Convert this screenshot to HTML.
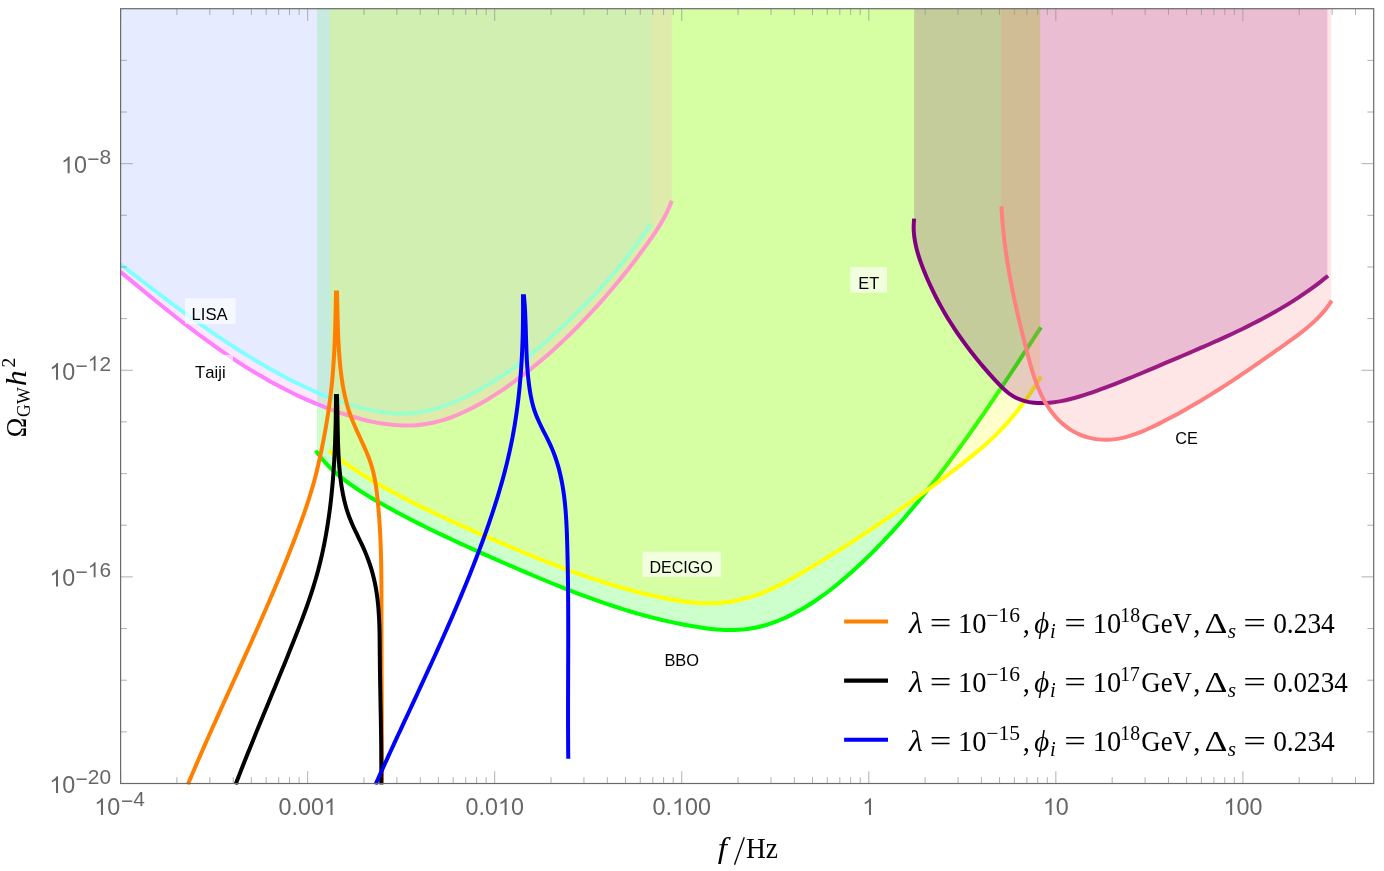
<!DOCTYPE html>
<html><head><meta charset="utf-8"><title>GW spectrum</title>
<style>html,body{margin:0;padding:0;background:#fff;}body{width:1384px;height:871px;position:relative;overflow:hidden;font-family:"Liberation Sans",sans-serif;}</style>
</head><body>
<svg width="1384" height="871" viewBox="0 0 1384 871" style="position:absolute;left:0;top:0;will-change:transform">
<defs><clipPath id="cp"><rect x="120.60" y="8.70" width="1253.10" height="776.00"/></clipPath></defs>
<rect x="0" y="0" width="1384" height="871" fill="#fff"/>
<g clip-path="url(#cp)" fill="none" stroke-linejoin="round">
<path d="M317.00,8.7 L317.00,450.60 L315.60,450.60 C316.54,451.83 319.29,455.60 321.26,457.97 C323.22,460.33 325.27,462.60 327.38,464.80 C329.49,467.00 331.68,469.12 333.92,471.17 C336.16,473.22 338.46,475.19 340.82,477.11 C343.17,479.02 345.58,480.87 348.02,482.67 C350.47,484.48 352.97,486.22 355.49,487.93 C358.02,489.63 360.58,491.28 363.17,492.91 C365.75,494.54 368.37,496.12 371.00,497.68 C373.63,499.24 376.28,500.77 378.94,502.29 C381.59,503.81 384.26,505.30 386.93,506.79 C389.60,508.27 392.28,509.74 394.97,511.19 C397.66,512.64 400.35,514.07 403.05,515.50 C405.75,516.92 408.46,518.33 411.17,519.72 C413.88,521.12 416.60,522.50 419.33,523.87 C422.05,525.24 424.78,526.59 427.52,527.94 C430.25,529.29 432.99,530.62 435.74,531.94 C438.49,533.27 441.24,534.58 443.99,535.89 C446.75,537.19 449.51,538.49 452.27,539.78 C455.04,541.06 457.81,542.34 460.58,543.61 C463.35,544.89 466.13,546.15 468.91,547.41 C471.69,548.67 474.47,549.92 477.26,551.17 C480.04,552.41 482.83,553.65 485.62,554.89 C488.41,556.13 491.21,557.36 494.00,558.59 C496.80,559.82 499.60,561.04 502.40,562.26 C505.20,563.49 508.00,564.71 510.80,565.92 C513.60,567.14 516.41,568.35 519.22,569.56 C522.03,570.77 524.84,571.97 527.65,573.17 C530.46,574.37 533.28,575.56 536.10,576.74 C538.92,577.93 541.74,579.10 544.56,580.27 C547.39,581.44 550.22,582.60 553.05,583.75 C555.88,584.89 558.72,586.03 561.56,587.16 C564.40,588.29 567.24,589.41 570.09,590.51 C572.94,591.62 575.79,592.71 578.65,593.79 C581.50,594.87 584.37,595.94 587.23,596.99 C590.10,598.04 592.97,599.07 595.85,600.09 C598.72,601.11 601.60,602.12 604.49,603.11 C607.38,604.09 610.27,605.06 613.17,606.01 C616.07,606.96 618.97,607.90 621.88,608.81 C624.80,609.72 627.71,610.62 630.64,611.49 C633.56,612.36 636.49,613.22 639.43,614.05 C642.36,614.88 645.30,615.68 648.26,616.47 C651.21,617.25 654.16,618.01 657.13,618.75 C660.09,619.48 663.07,620.20 666.05,620.88 C669.03,621.57 672.01,622.23 675.01,622.86 C678.01,623.49 681.01,624.10 684.02,624.68 C687.04,625.26 690.06,625.81 693.09,626.33 C696.11,626.84 699.15,627.33 702.19,627.77 C705.23,628.20 708.28,628.60 711.32,628.92 C714.36,629.24 717.41,629.52 720.45,629.70 C723.49,629.89 726.53,630.01 729.56,630.04 C732.58,630.06 735.61,630.00 738.62,629.83 C741.63,629.66 744.64,629.40 747.62,629.01 C750.61,628.62 753.58,628.12 756.54,627.49 C759.49,626.87 762.43,626.11 765.34,625.26 C768.25,624.42 771.14,623.45 774.01,622.40 C776.87,621.36 779.71,620.21 782.51,618.99 C785.32,617.78 788.09,616.48 790.83,615.12 C793.57,613.76 796.27,612.33 798.95,610.84 C801.62,609.36 804.26,607.81 806.87,606.21 C809.48,604.61 812.06,602.94 814.61,601.24 C817.16,599.54 819.68,597.78 822.18,595.98 C824.67,594.19 827.13,592.34 829.57,590.47 C832.01,588.59 834.42,586.68 836.81,584.73 C839.20,582.79 841.56,580.81 843.90,578.81 C846.24,576.81 848.55,574.78 850.85,572.74 C853.14,570.69 855.41,568.62 857.66,566.54 C859.91,564.46 862.14,562.36 864.35,560.24 C866.55,558.13 868.74,555.99 870.91,553.84 C873.08,551.69 875.23,549.53 877.36,547.34 C879.49,545.16 881.60,542.97 883.70,540.75 C885.79,538.54 887.87,536.32 889.93,534.08 C892.00,531.84 894.04,529.58 896.07,527.31 C898.11,525.05 900.12,522.77 902.12,520.48 C904.12,518.18 906.11,515.88 908.09,513.56 C910.06,511.25 912.02,508.92 913.97,506.58 C915.92,504.24 917.86,501.90 919.78,499.54 C921.71,497.18 923.62,494.81 925.53,492.43 C927.44,490.06 929.33,487.67 931.21,485.27 C933.10,482.88 934.98,480.47 936.84,478.06 C938.71,475.65 940.56,473.23 942.41,470.80 C944.26,468.38 946.10,465.94 947.93,463.50 C949.76,461.06 951.58,458.61 953.40,456.15 C955.21,453.69 957.02,451.23 958.82,448.76 C960.62,446.29 962.41,443.81 964.19,441.33 C965.97,438.85 967.75,436.36 969.52,433.87 C971.29,431.38 973.05,428.88 974.81,426.38 C976.56,423.87 978.31,421.37 980.06,418.85 C981.80,416.34 983.54,413.83 985.27,411.30 C987.00,408.78 988.73,406.26 990.45,403.73 C992.17,401.20 993.88,398.67 995.60,396.14 C997.31,393.60 999.01,391.06 1000.71,388.52 C1002.42,385.98 1004.11,383.44 1005.81,380.90 C1007.50,378.35 1009.19,375.80 1010.87,373.25 C1012.56,370.71 1014.24,368.16 1015.92,365.60 C1017.60,363.05 1019.27,360.50 1020.94,357.95 C1022.62,355.39 1024.29,352.84 1025.95,350.28 C1027.62,347.73 1029.28,345.17 1030.95,342.62 C1032.61,340.07 1034.27,337.51 1035.93,334.96 C1037.59,332.40 1040.07,328.58 1040.90,327.30 L1040.20,327.30 L1040.20,8.7 Z" fill="rgb(0,255,0)" fill-opacity="0.2" stroke="none"/>
<path d="M315.60,450.60 C316.54,451.83 319.29,455.60 321.26,457.97 C323.22,460.33 325.27,462.60 327.38,464.80 C329.49,467.00 331.68,469.12 333.92,471.17 C336.16,473.22 338.46,475.19 340.82,477.11 C343.17,479.02 345.58,480.87 348.02,482.67 C350.47,484.48 352.97,486.22 355.49,487.93 C358.02,489.63 360.58,491.28 363.17,492.91 C365.75,494.54 368.37,496.12 371.00,497.68 C373.63,499.24 376.28,500.77 378.94,502.29 C381.59,503.81 384.26,505.30 386.93,506.79 C389.60,508.27 392.28,509.74 394.97,511.19 C397.66,512.64 400.35,514.07 403.05,515.50 C405.75,516.92 408.46,518.33 411.17,519.72 C413.88,521.12 416.60,522.50 419.33,523.87 C422.05,525.24 424.78,526.59 427.52,527.94 C430.25,529.29 432.99,530.62 435.74,531.94 C438.49,533.27 441.24,534.58 443.99,535.89 C446.75,537.19 449.51,538.49 452.27,539.78 C455.04,541.06 457.81,542.34 460.58,543.61 C463.35,544.89 466.13,546.15 468.91,547.41 C471.69,548.67 474.47,549.92 477.26,551.17 C480.04,552.41 482.83,553.65 485.62,554.89 C488.41,556.13 491.21,557.36 494.00,558.59 C496.80,559.82 499.60,561.04 502.40,562.26 C505.20,563.49 508.00,564.71 510.80,565.92 C513.60,567.14 516.41,568.35 519.22,569.56 C522.03,570.77 524.84,571.97 527.65,573.17 C530.46,574.37 533.28,575.56 536.10,576.74 C538.92,577.93 541.74,579.10 544.56,580.27 C547.39,581.44 550.22,582.60 553.05,583.75 C555.88,584.89 558.72,586.03 561.56,587.16 C564.40,588.29 567.24,589.41 570.09,590.51 C572.94,591.62 575.79,592.71 578.65,593.79 C581.50,594.87 584.37,595.94 587.23,596.99 C590.10,598.04 592.97,599.07 595.85,600.09 C598.72,601.11 601.60,602.12 604.49,603.11 C607.38,604.09 610.27,605.06 613.17,606.01 C616.07,606.96 618.97,607.90 621.88,608.81 C624.80,609.72 627.71,610.62 630.64,611.49 C633.56,612.36 636.49,613.22 639.43,614.05 C642.36,614.88 645.30,615.68 648.26,616.47 C651.21,617.25 654.16,618.01 657.13,618.75 C660.09,619.48 663.07,620.20 666.05,620.88 C669.03,621.57 672.01,622.23 675.01,622.86 C678.01,623.49 681.01,624.10 684.02,624.68 C687.04,625.26 690.06,625.81 693.09,626.33 C696.11,626.84 699.15,627.33 702.19,627.77 C705.23,628.20 708.28,628.60 711.32,628.92 C714.36,629.24 717.41,629.52 720.45,629.70 C723.49,629.89 726.53,630.01 729.56,630.04 C732.58,630.06 735.61,630.00 738.62,629.83 C741.63,629.66 744.64,629.40 747.62,629.01 C750.61,628.62 753.58,628.12 756.54,627.49 C759.49,626.87 762.43,626.11 765.34,625.26 C768.25,624.42 771.14,623.45 774.01,622.40 C776.87,621.36 779.71,620.21 782.51,618.99 C785.32,617.78 788.09,616.48 790.83,615.12 C793.57,613.76 796.27,612.33 798.95,610.84 C801.62,609.36 804.26,607.81 806.87,606.21 C809.48,604.61 812.06,602.94 814.61,601.24 C817.16,599.54 819.68,597.78 822.18,595.98 C824.67,594.19 827.13,592.34 829.57,590.47 C832.01,588.59 834.42,586.68 836.81,584.73 C839.20,582.79 841.56,580.81 843.90,578.81 C846.24,576.81 848.55,574.78 850.85,572.74 C853.14,570.69 855.41,568.62 857.66,566.54 C859.91,564.46 862.14,562.36 864.35,560.24 C866.55,558.13 868.74,555.99 870.91,553.84 C873.08,551.69 875.23,549.53 877.36,547.34 C879.49,545.16 881.60,542.97 883.70,540.75 C885.79,538.54 887.87,536.32 889.93,534.08 C892.00,531.84 894.04,529.58 896.07,527.31 C898.11,525.05 900.12,522.77 902.12,520.48 C904.12,518.18 906.11,515.88 908.09,513.56 C910.06,511.25 912.02,508.92 913.97,506.58 C915.92,504.24 917.86,501.90 919.78,499.54 C921.71,497.18 923.62,494.81 925.53,492.43 C927.44,490.06 929.33,487.67 931.21,485.27 C933.10,482.88 934.98,480.47 936.84,478.06 C938.71,475.65 940.56,473.23 942.41,470.80 C944.26,468.38 946.10,465.94 947.93,463.50 C949.76,461.06 951.58,458.61 953.40,456.15 C955.21,453.69 957.02,451.23 958.82,448.76 C960.62,446.29 962.41,443.81 964.19,441.33 C965.97,438.85 967.75,436.36 969.52,433.87 C971.29,431.38 973.05,428.88 974.81,426.38 C976.56,423.87 978.31,421.37 980.06,418.85 C981.80,416.34 983.54,413.83 985.27,411.30 C987.00,408.78 988.73,406.26 990.45,403.73 C992.17,401.20 993.88,398.67 995.60,396.14 C997.31,393.60 999.01,391.06 1000.71,388.52 C1002.42,385.98 1004.11,383.44 1005.81,380.90 C1007.50,378.35 1009.19,375.80 1010.87,373.25 C1012.56,370.71 1014.24,368.16 1015.92,365.60 C1017.60,363.05 1019.27,360.50 1020.94,357.95 C1022.62,355.39 1024.29,352.84 1025.95,350.28 C1027.62,347.73 1029.28,345.17 1030.95,342.62 C1032.61,340.07 1034.27,337.51 1035.93,334.96 C1037.59,332.40 1040.07,328.58 1040.90,327.30" stroke="rgb(0,255,0)" stroke-width="4.0"/>
<path d="M120.50,8.7 L120.50,271.90 L120.60,271.90 C121.78,272.88 125.30,275.81 127.66,277.77 C130.01,279.72 132.37,281.68 134.73,283.64 C137.09,285.59 139.45,287.55 141.82,289.50 C144.19,291.45 146.56,293.40 148.94,295.35 C151.32,297.29 153.70,299.24 156.08,301.18 C158.47,303.11 160.86,305.05 163.26,306.97 C165.66,308.90 168.06,310.82 170.47,312.73 C172.88,314.65 175.29,316.55 177.72,318.45 C180.14,320.35 182.57,322.23 185.01,324.11 C187.44,325.99 189.89,327.86 192.34,329.71 C194.79,331.57 197.25,333.41 199.72,335.25 C202.19,337.08 204.67,338.90 207.16,340.70 C209.65,342.51 212.14,344.30 214.65,346.07 C217.15,347.85 219.67,349.61 222.20,351.35 C224.72,353.10 227.26,354.83 229.81,356.54 C232.36,358.24 234.92,359.94 237.49,361.61 C240.06,363.28 242.64,364.93 245.23,366.56 C247.83,368.20 250.43,369.81 253.05,371.40 C255.67,372.99 258.30,374.56 260.95,376.10 C263.60,377.64 266.25,379.17 268.93,380.66 C271.60,382.16 274.29,383.63 276.99,385.08 C279.69,386.53 282.40,387.95 285.13,389.34 C287.86,390.74 290.61,392.10 293.37,393.44 C296.12,394.78 298.90,396.09 301.69,397.38 C304.48,398.66 307.28,399.91 310.10,401.13 C312.92,402.36 315.76,403.55 318.61,404.71 C321.46,405.87 324.33,407.00 327.22,408.10 C330.10,409.19 333.00,410.26 335.92,411.28 C338.83,412.31 341.77,413.31 344.72,414.27 C347.66,415.22 350.63,416.15 353.61,417.02 C356.58,417.88 359.57,418.71 362.57,419.48 C365.57,420.24 368.58,420.95 371.59,421.59 C374.61,422.23 377.63,422.81 380.66,423.31 C383.68,423.81 386.71,424.24 389.74,424.58 C392.78,424.92 395.81,425.18 398.84,425.34 C401.87,425.50 404.90,425.58 407.93,425.55 C410.95,425.51 413.97,425.39 416.99,425.14 C420.00,424.90 423.01,424.55 426.01,424.07 C429.00,423.60 431.99,423.00 434.96,422.29 C437.94,421.58 440.90,420.75 443.84,419.83 C446.77,418.92 449.70,417.89 452.59,416.79 C455.48,415.70 458.35,414.50 461.19,413.26 C464.02,412.02 466.83,410.70 469.60,409.33 C472.38,407.97 475.11,406.54 477.83,405.07 C480.54,403.60 483.22,402.07 485.87,400.51 C488.52,398.94 491.15,397.33 493.75,395.68 C496.35,394.03 498.92,392.34 501.47,390.63 C504.03,388.91 506.56,387.15 509.06,385.38 C511.57,383.60 514.06,381.80 516.53,379.97 C519.00,378.14 521.45,376.29 523.88,374.42 C526.31,372.55 528.72,370.65 531.11,368.73 C533.51,366.82 535.88,364.87 538.24,362.91 C540.59,360.95 542.93,358.97 545.25,356.97 C547.57,354.96 549.87,352.94 552.15,350.90 C554.44,348.85 556.70,346.79 558.95,344.71 C561.20,342.63 563.44,340.53 565.65,338.41 C567.87,336.29 570.07,334.15 572.25,332.00 C574.43,329.85 576.60,327.68 578.75,325.49 C580.90,323.30 583.04,321.10 585.16,318.88 C587.28,316.66 589.38,314.43 591.47,312.18 C593.56,309.93 595.64,307.67 597.70,305.39 C599.76,303.11 601.80,300.82 603.83,298.52 C605.86,296.21 607.87,293.89 609.87,291.55 C611.87,289.22 613.85,286.87 615.81,284.51 C617.78,282.15 619.73,279.78 621.67,277.39 C623.60,275.00 625.52,272.60 627.43,270.19 C629.33,267.78 631.22,265.36 633.09,262.92 C634.96,260.49 636.82,258.04 638.66,255.58 C640.50,253.12 642.33,250.65 644.14,248.17 C645.95,245.69 647.75,243.20 649.51,240.69 C651.28,238.18 653.03,235.66 654.72,233.11 C656.42,230.56 658.08,227.99 659.67,225.37 C661.26,222.76 662.80,220.12 664.25,217.43 C665.70,214.74 667.08,212.01 668.36,209.22 C669.63,206.43 671.31,202.12 671.90,200.70 L671.70,200.70 L671.70,8.7 Z" fill="rgb(255,128,255)" fill-opacity="0.2" stroke="none"/>
<path d="M120.60,271.90 C121.78,272.88 125.30,275.81 127.66,277.77 C130.01,279.72 132.37,281.68 134.73,283.64 C137.09,285.59 139.45,287.55 141.82,289.50 C144.19,291.45 146.56,293.40 148.94,295.35 C151.32,297.29 153.70,299.24 156.08,301.18 C158.47,303.11 160.86,305.05 163.26,306.97 C165.66,308.90 168.06,310.82 170.47,312.73 C172.88,314.65 175.29,316.55 177.72,318.45 C180.14,320.35 182.57,322.23 185.01,324.11 C187.44,325.99 189.89,327.86 192.34,329.71 C194.79,331.57 197.25,333.41 199.72,335.25 C202.19,337.08 204.67,338.90 207.16,340.70 C209.65,342.51 212.14,344.30 214.65,346.07 C217.15,347.85 219.67,349.61 222.20,351.35 C224.72,353.10 227.26,354.83 229.81,356.54 C232.36,358.24 234.92,359.94 237.49,361.61 C240.06,363.28 242.64,364.93 245.23,366.56 C247.83,368.20 250.43,369.81 253.05,371.40 C255.67,372.99 258.30,374.56 260.95,376.10 C263.60,377.64 266.25,379.17 268.93,380.66 C271.60,382.16 274.29,383.63 276.99,385.08 C279.69,386.53 282.40,387.95 285.13,389.34 C287.86,390.74 290.61,392.10 293.37,393.44 C296.12,394.78 298.90,396.09 301.69,397.38 C304.48,398.66 307.28,399.91 310.10,401.13 C312.92,402.36 315.76,403.55 318.61,404.71 C321.46,405.87 324.33,407.00 327.22,408.10 C330.10,409.19 333.00,410.26 335.92,411.28 C338.83,412.31 341.77,413.31 344.72,414.27 C347.66,415.22 350.63,416.15 353.61,417.02 C356.58,417.88 359.57,418.71 362.57,419.48 C365.57,420.24 368.58,420.95 371.59,421.59 C374.61,422.23 377.63,422.81 380.66,423.31 C383.68,423.81 386.71,424.24 389.74,424.58 C392.78,424.92 395.81,425.18 398.84,425.34 C401.87,425.50 404.90,425.58 407.93,425.55 C410.95,425.51 413.97,425.39 416.99,425.14 C420.00,424.90 423.01,424.55 426.01,424.07 C429.00,423.60 431.99,423.00 434.96,422.29 C437.94,421.58 440.90,420.75 443.84,419.83 C446.77,418.92 449.70,417.89 452.59,416.79 C455.48,415.70 458.35,414.50 461.19,413.26 C464.02,412.02 466.83,410.70 469.60,409.33 C472.38,407.97 475.11,406.54 477.83,405.07 C480.54,403.60 483.22,402.07 485.87,400.51 C488.52,398.94 491.15,397.33 493.75,395.68 C496.35,394.03 498.92,392.34 501.47,390.63 C504.03,388.91 506.56,387.15 509.06,385.38 C511.57,383.60 514.06,381.80 516.53,379.97 C519.00,378.14 521.45,376.29 523.88,374.42 C526.31,372.55 528.72,370.65 531.11,368.73 C533.51,366.82 535.88,364.87 538.24,362.91 C540.59,360.95 542.93,358.97 545.25,356.97 C547.57,354.96 549.87,352.94 552.15,350.90 C554.44,348.85 556.70,346.79 558.95,344.71 C561.20,342.63 563.44,340.53 565.65,338.41 C567.87,336.29 570.07,334.15 572.25,332.00 C574.43,329.85 576.60,327.68 578.75,325.49 C580.90,323.30 583.04,321.10 585.16,318.88 C587.28,316.66 589.38,314.43 591.47,312.18 C593.56,309.93 595.64,307.67 597.70,305.39 C599.76,303.11 601.80,300.82 603.83,298.52 C605.86,296.21 607.87,293.89 609.87,291.55 C611.87,289.22 613.85,286.87 615.81,284.51 C617.78,282.15 619.73,279.78 621.67,277.39 C623.60,275.00 625.52,272.60 627.43,270.19 C629.33,267.78 631.22,265.36 633.09,262.92 C634.96,260.49 636.82,258.04 638.66,255.58 C640.50,253.12 642.33,250.65 644.14,248.17 C645.95,245.69 647.75,243.20 649.51,240.69 C651.28,238.18 653.03,235.66 654.72,233.11 C656.42,230.56 658.08,227.99 659.67,225.37 C661.26,222.76 662.80,220.12 664.25,217.43 C665.70,214.74 667.08,212.01 668.36,209.22 C669.63,206.43 671.31,202.12 671.90,200.70" stroke="rgb(255,128,255)" stroke-width="4.0"/>
<path d="M121.30,8.7 L121.30,264.40 L120.60,264.40 C121.81,265.34 125.45,268.15 127.88,270.03 C130.31,271.90 132.74,273.78 135.17,275.65 C137.60,277.53 140.04,279.40 142.48,281.27 C144.92,283.15 147.36,285.02 149.80,286.88 C152.25,288.75 154.70,290.62 157.15,292.48 C159.60,294.34 162.06,296.19 164.52,298.04 C166.98,299.90 169.45,301.74 171.92,303.58 C174.39,305.42 176.86,307.26 179.35,309.08 C181.83,310.91 184.31,312.73 186.80,314.54 C189.30,316.35 191.79,318.16 194.30,319.95 C196.80,321.74 199.31,323.53 201.83,325.30 C204.35,327.08 206.87,328.84 209.40,330.59 C211.93,332.34 214.47,334.08 217.02,335.81 C219.56,337.54 222.11,339.26 224.68,340.96 C227.24,342.66 229.81,344.35 232.39,346.02 C234.97,347.70 237.55,349.36 240.15,351.00 C242.75,352.64 245.35,354.27 247.97,355.88 C250.58,357.49 253.20,359.09 255.84,360.66 C258.47,362.24 261.12,363.80 263.77,365.34 C266.43,366.88 269.09,368.40 271.77,369.90 C274.45,371.40 277.13,372.88 279.83,374.34 C282.53,375.80 285.25,377.23 287.97,378.65 C290.70,380.06 293.43,381.45 296.19,382.81 C298.94,384.17 301.71,385.51 304.49,386.81 C307.28,388.12 310.07,389.40 312.89,390.65 C315.71,391.89 318.54,393.11 321.39,394.29 C324.24,395.48 327.11,396.63 330.00,397.75 C332.89,398.86 335.80,399.95 338.72,400.99 C341.65,402.03 344.60,403.05 347.57,404.01 C350.53,404.97 353.52,405.89 356.52,406.74 C359.51,407.59 362.52,408.40 365.54,409.12 C368.56,409.84 371.59,410.51 374.63,411.08 C377.66,411.65 380.70,412.15 383.74,412.55 C386.78,412.95 389.83,413.26 392.87,413.46 C395.91,413.66 398.95,413.77 401.98,413.75 C405.01,413.73 408.03,413.59 411.05,413.34 C414.06,413.08 417.07,412.70 420.06,412.22 C423.05,411.73 426.04,411.13 429.00,410.44 C431.97,409.74 434.92,408.94 437.85,408.06 C440.78,407.18 443.70,406.19 446.60,405.14 C449.49,404.09 452.37,402.95 455.22,401.75 C458.08,400.56 460.91,399.28 463.72,397.95 C466.52,396.63 469.31,395.23 472.06,393.80 C474.81,392.36 477.54,390.87 480.24,389.35 C482.94,387.83 485.60,386.26 488.25,384.66 C490.89,383.06 493.50,381.42 496.09,379.74 C498.68,378.07 501.24,376.36 503.78,374.62 C506.32,372.88 508.83,371.10 511.33,369.30 C513.82,367.50 516.29,365.67 518.74,363.81 C521.19,361.95 523.62,360.06 526.03,358.16 C528.44,356.25 530.83,354.31 533.20,352.36 C535.58,350.40 537.93,348.43 540.28,346.43 C542.62,344.44 544.94,342.42 547.26,340.39 C549.57,338.36 551.87,336.32 554.16,334.26 C556.44,332.20 558.72,330.12 560.98,328.03 C563.23,325.95 565.48,323.84 567.71,321.72 C569.94,319.61 572.16,317.47 574.37,315.32 C576.57,313.18 578.76,311.01 580.93,308.83 C583.10,306.66 585.26,304.46 587.40,302.25 C589.54,300.04 591.66,297.82 593.77,295.58 C595.87,293.34 597.96,291.08 600.04,288.81 C602.11,286.54 604.16,284.25 606.20,281.95 C608.24,279.64 610.25,277.33 612.25,274.99 C614.25,272.65 616.23,270.30 618.19,267.93 C620.15,265.57 622.09,263.18 624.01,260.78 C625.93,258.38 627.83,255.96 629.71,253.53 C631.59,251.09 633.45,248.64 635.28,246.17 C637.12,243.71 638.93,241.22 640.72,238.72 C642.52,236.22 644.29,233.70 646.03,231.16 C647.78,228.63 650.34,224.78 651.20,223.50 L650.60,223.50 L650.60,8.7 Z" fill="rgb(128,255,255)" fill-opacity="0.2" stroke="none"/>
<path d="M120.60,264.40 C121.81,265.34 125.45,268.15 127.88,270.03 C130.31,271.90 132.74,273.78 135.17,275.65 C137.60,277.53 140.04,279.40 142.48,281.27 C144.92,283.15 147.36,285.02 149.80,286.88 C152.25,288.75 154.70,290.62 157.15,292.48 C159.60,294.34 162.06,296.19 164.52,298.04 C166.98,299.90 169.45,301.74 171.92,303.58 C174.39,305.42 176.86,307.26 179.35,309.08 C181.83,310.91 184.31,312.73 186.80,314.54 C189.30,316.35 191.79,318.16 194.30,319.95 C196.80,321.74 199.31,323.53 201.83,325.30 C204.35,327.08 206.87,328.84 209.40,330.59 C211.93,332.34 214.47,334.08 217.02,335.81 C219.56,337.54 222.11,339.26 224.68,340.96 C227.24,342.66 229.81,344.35 232.39,346.02 C234.97,347.70 237.55,349.36 240.15,351.00 C242.75,352.64 245.35,354.27 247.97,355.88 C250.58,357.49 253.20,359.09 255.84,360.66 C258.47,362.24 261.12,363.80 263.77,365.34 C266.43,366.88 269.09,368.40 271.77,369.90 C274.45,371.40 277.13,372.88 279.83,374.34 C282.53,375.80 285.25,377.23 287.97,378.65 C290.70,380.06 293.43,381.45 296.19,382.81 C298.94,384.17 301.71,385.51 304.49,386.81 C307.28,388.12 310.07,389.40 312.89,390.65 C315.71,391.89 318.54,393.11 321.39,394.29 C324.24,395.48 327.11,396.63 330.00,397.75 C332.89,398.86 335.80,399.95 338.72,400.99 C341.65,402.03 344.60,403.05 347.57,404.01 C350.53,404.97 353.52,405.89 356.52,406.74 C359.51,407.59 362.52,408.40 365.54,409.12 C368.56,409.84 371.59,410.51 374.63,411.08 C377.66,411.65 380.70,412.15 383.74,412.55 C386.78,412.95 389.83,413.26 392.87,413.46 C395.91,413.66 398.95,413.77 401.98,413.75 C405.01,413.73 408.03,413.59 411.05,413.34 C414.06,413.08 417.07,412.70 420.06,412.22 C423.05,411.73 426.04,411.13 429.00,410.44 C431.97,409.74 434.92,408.94 437.85,408.06 C440.78,407.18 443.70,406.19 446.60,405.14 C449.49,404.09 452.37,402.95 455.22,401.75 C458.08,400.56 460.91,399.28 463.72,397.95 C466.52,396.63 469.31,395.23 472.06,393.80 C474.81,392.36 477.54,390.87 480.24,389.35 C482.94,387.83 485.60,386.26 488.25,384.66 C490.89,383.06 493.50,381.42 496.09,379.74 C498.68,378.07 501.24,376.36 503.78,374.62 C506.32,372.88 508.83,371.10 511.33,369.30 C513.82,367.50 516.29,365.67 518.74,363.81 C521.19,361.95 523.62,360.06 526.03,358.16 C528.44,356.25 530.83,354.31 533.20,352.36 C535.58,350.40 537.93,348.43 540.28,346.43 C542.62,344.44 544.94,342.42 547.26,340.39 C549.57,338.36 551.87,336.32 554.16,334.26 C556.44,332.20 558.72,330.12 560.98,328.03 C563.23,325.95 565.48,323.84 567.71,321.72 C569.94,319.61 572.16,317.47 574.37,315.32 C576.57,313.18 578.76,311.01 580.93,308.83 C583.10,306.66 585.26,304.46 587.40,302.25 C589.54,300.04 591.66,297.82 593.77,295.58 C595.87,293.34 597.96,291.08 600.04,288.81 C602.11,286.54 604.16,284.25 606.20,281.95 C608.24,279.64 610.25,277.33 612.25,274.99 C614.25,272.65 616.23,270.30 618.19,267.93 C620.15,265.57 622.09,263.18 624.01,260.78 C625.93,258.38 627.83,255.96 629.71,253.53 C631.59,251.09 633.45,248.64 635.28,246.17 C637.12,243.71 638.93,241.22 640.72,238.72 C642.52,236.22 644.29,233.70 646.03,231.16 C647.78,228.63 650.34,224.78 651.20,223.50" stroke="rgb(128,255,255)" stroke-width="4.0"/>
<path d="M330.00,8.7 L330.00,450.60 L328.75,450.60 C329.95,451.55 333.51,454.43 335.93,456.29 C338.35,458.15 340.81,459.97 343.28,461.76 C345.75,463.55 348.26,465.30 350.78,467.02 C353.30,468.74 355.84,470.42 358.41,472.08 C360.97,473.74 363.56,475.36 366.16,476.97 C368.76,478.57 371.38,480.14 374.01,481.69 C376.65,483.24 379.30,484.77 381.96,486.27 C384.62,487.78 387.30,489.26 389.98,490.72 C392.67,492.19 395.37,493.63 398.07,495.06 C400.77,496.49 403.48,497.90 406.20,499.30 C408.92,500.70 411.64,502.08 414.37,503.46 C417.10,504.83 419.83,506.19 422.57,507.53 C425.31,508.88 428.06,510.21 430.81,511.53 C433.56,512.85 436.32,514.16 439.08,515.46 C441.84,516.76 444.60,518.05 447.37,519.33 C450.14,520.61 452.92,521.88 455.70,523.15 C458.47,524.41 461.26,525.66 464.04,526.91 C466.83,528.15 469.62,529.39 472.41,530.62 C475.21,531.85 478.00,533.08 480.80,534.30 C483.60,535.51 486.41,536.73 489.21,537.93 C492.02,539.14 494.83,540.35 497.64,541.54 C500.45,542.74 503.26,543.94 506.08,545.13 C508.89,546.32 511.71,547.51 514.53,548.69 C517.35,549.88 520.17,551.05 523.00,552.23 C525.82,553.40 528.65,554.56 531.48,555.72 C534.31,556.87 537.15,558.02 539.99,559.16 C542.83,560.30 545.67,561.43 548.51,562.54 C551.36,563.66 554.21,564.77 557.07,565.87 C559.92,566.96 562.78,568.05 565.64,569.12 C568.51,570.18 571.37,571.24 574.25,572.28 C577.12,573.32 580.00,574.35 582.88,575.36 C585.77,576.37 588.66,577.37 591.55,578.34 C594.44,579.32 597.34,580.28 600.25,581.22 C603.16,582.16 606.07,583.08 608.99,583.98 C611.91,584.88 614.83,585.76 617.76,586.62 C620.70,587.48 623.63,588.32 626.58,589.13 C629.53,589.94 632.48,590.74 635.44,591.50 C638.40,592.27 641.37,593.01 644.34,593.73 C647.32,594.44 650.30,595.13 653.29,595.80 C656.28,596.46 659.28,597.10 662.29,597.70 C665.30,598.31 668.31,598.90 671.34,599.44 C674.36,599.98 677.39,600.49 680.42,600.94 C683.46,601.39 686.50,601.80 689.53,602.14 C692.57,602.48 695.62,602.76 698.66,602.96 C701.69,603.16 704.73,603.29 707.77,603.32 C710.80,603.35 713.83,603.30 716.86,603.14 C719.88,602.98 722.90,602.72 725.91,602.35 C728.92,601.98 731.92,601.50 734.90,600.92 C737.88,600.35 740.86,599.67 743.81,598.90 C746.76,598.14 749.69,597.28 752.60,596.34 C755.51,595.40 758.39,594.37 761.25,593.27 C764.11,592.17 766.93,590.99 769.74,589.75 C772.54,588.51 775.31,587.20 778.06,585.84 C780.81,584.49 783.53,583.07 786.24,581.62 C788.94,580.17 791.63,578.67 794.31,577.16 C796.98,575.64 799.64,574.09 802.29,572.54 C804.94,570.98 807.58,569.41 810.22,567.83 C812.85,566.26 815.48,564.68 818.10,563.09 C820.72,561.50 823.33,559.90 825.94,558.30 C828.55,556.69 831.15,555.08 833.74,553.46 C836.33,551.84 838.92,550.22 841.50,548.58 C844.08,546.95 846.66,545.31 849.23,543.66 C851.80,542.01 854.36,540.36 856.91,538.70 C859.47,537.03 862.02,535.36 864.57,533.69 C867.11,532.01 869.65,530.32 872.19,528.63 C874.72,526.94 877.25,525.24 879.78,523.53 C882.30,521.83 884.82,520.11 887.34,518.39 C889.85,516.67 892.36,514.94 894.87,513.20 C897.37,511.46 899.87,509.72 902.37,507.96 C904.87,506.21 907.36,504.45 909.85,502.68 C912.34,500.92 914.82,499.14 917.30,497.36 C919.78,495.57 922.26,493.78 924.73,491.99 C927.20,490.19 929.67,488.38 932.14,486.57 C934.60,484.75 937.06,482.93 939.52,481.10 C941.97,479.27 944.42,477.43 946.86,475.58 C949.31,473.73 951.74,471.87 954.17,470.01 C956.59,468.14 959.01,466.26 961.42,464.38 C963.83,462.49 966.24,460.60 968.62,458.68 C971.00,456.77 973.38,454.85 975.73,452.90 C978.07,450.94 980.41,448.98 982.71,446.98 C985.01,444.97 987.28,442.95 989.52,440.88 C991.76,438.82 993.97,436.72 996.14,434.59 C998.30,432.45 1000.44,430.28 1002.53,428.07 C1004.62,425.86 1006.68,423.61 1008.69,421.32 C1010.70,419.04 1012.67,416.71 1014.61,414.35 C1016.54,411.99 1018.44,409.60 1020.30,407.17 C1022.15,404.75 1023.97,402.29 1025.76,399.81 C1027.55,397.33 1029.29,394.81 1031.01,392.28 C1032.73,389.75 1034.41,387.18 1036.05,384.60 C1037.70,382.02 1040.09,378.10 1040.90,376.80 L1040.20,376.80 L1040.20,8.7 Z" fill="rgb(255,255,0)" fill-opacity="0.2" stroke="none"/>
<path d="M328.75,450.60 C329.95,451.55 333.51,454.43 335.93,456.29 C338.35,458.15 340.81,459.97 343.28,461.76 C345.75,463.55 348.26,465.30 350.78,467.02 C353.30,468.74 355.84,470.42 358.41,472.08 C360.97,473.74 363.56,475.36 366.16,476.97 C368.76,478.57 371.38,480.14 374.01,481.69 C376.65,483.24 379.30,484.77 381.96,486.27 C384.62,487.78 387.30,489.26 389.98,490.72 C392.67,492.19 395.37,493.63 398.07,495.06 C400.77,496.49 403.48,497.90 406.20,499.30 C408.92,500.70 411.64,502.08 414.37,503.46 C417.10,504.83 419.83,506.19 422.57,507.53 C425.31,508.88 428.06,510.21 430.81,511.53 C433.56,512.85 436.32,514.16 439.08,515.46 C441.84,516.76 444.60,518.05 447.37,519.33 C450.14,520.61 452.92,521.88 455.70,523.15 C458.47,524.41 461.26,525.66 464.04,526.91 C466.83,528.15 469.62,529.39 472.41,530.62 C475.21,531.85 478.00,533.08 480.80,534.30 C483.60,535.51 486.41,536.73 489.21,537.93 C492.02,539.14 494.83,540.35 497.64,541.54 C500.45,542.74 503.26,543.94 506.08,545.13 C508.89,546.32 511.71,547.51 514.53,548.69 C517.35,549.88 520.17,551.05 523.00,552.23 C525.82,553.40 528.65,554.56 531.48,555.72 C534.31,556.87 537.15,558.02 539.99,559.16 C542.83,560.30 545.67,561.43 548.51,562.54 C551.36,563.66 554.21,564.77 557.07,565.87 C559.92,566.96 562.78,568.05 565.64,569.12 C568.51,570.18 571.37,571.24 574.25,572.28 C577.12,573.32 580.00,574.35 582.88,575.36 C585.77,576.37 588.66,577.37 591.55,578.34 C594.44,579.32 597.34,580.28 600.25,581.22 C603.16,582.16 606.07,583.08 608.99,583.98 C611.91,584.88 614.83,585.76 617.76,586.62 C620.70,587.48 623.63,588.32 626.58,589.13 C629.53,589.94 632.48,590.74 635.44,591.50 C638.40,592.27 641.37,593.01 644.34,593.73 C647.32,594.44 650.30,595.13 653.29,595.80 C656.28,596.46 659.28,597.10 662.29,597.70 C665.30,598.31 668.31,598.90 671.34,599.44 C674.36,599.98 677.39,600.49 680.42,600.94 C683.46,601.39 686.50,601.80 689.53,602.14 C692.57,602.48 695.62,602.76 698.66,602.96 C701.69,603.16 704.73,603.29 707.77,603.32 C710.80,603.35 713.83,603.30 716.86,603.14 C719.88,602.98 722.90,602.72 725.91,602.35 C728.92,601.98 731.92,601.50 734.90,600.92 C737.88,600.35 740.86,599.67 743.81,598.90 C746.76,598.14 749.69,597.28 752.60,596.34 C755.51,595.40 758.39,594.37 761.25,593.27 C764.11,592.17 766.93,590.99 769.74,589.75 C772.54,588.51 775.31,587.20 778.06,585.84 C780.81,584.49 783.53,583.07 786.24,581.62 C788.94,580.17 791.63,578.67 794.31,577.16 C796.98,575.64 799.64,574.09 802.29,572.54 C804.94,570.98 807.58,569.41 810.22,567.83 C812.85,566.26 815.48,564.68 818.10,563.09 C820.72,561.50 823.33,559.90 825.94,558.30 C828.55,556.69 831.15,555.08 833.74,553.46 C836.33,551.84 838.92,550.22 841.50,548.58 C844.08,546.95 846.66,545.31 849.23,543.66 C851.80,542.01 854.36,540.36 856.91,538.70 C859.47,537.03 862.02,535.36 864.57,533.69 C867.11,532.01 869.65,530.32 872.19,528.63 C874.72,526.94 877.25,525.24 879.78,523.53 C882.30,521.83 884.82,520.11 887.34,518.39 C889.85,516.67 892.36,514.94 894.87,513.20 C897.37,511.46 899.87,509.72 902.37,507.96 C904.87,506.21 907.36,504.45 909.85,502.68 C912.34,500.92 914.82,499.14 917.30,497.36 C919.78,495.57 922.26,493.78 924.73,491.99 C927.20,490.19 929.67,488.38 932.14,486.57 C934.60,484.75 937.06,482.93 939.52,481.10 C941.97,479.27 944.42,477.43 946.86,475.58 C949.31,473.73 951.74,471.87 954.17,470.01 C956.59,468.14 959.01,466.26 961.42,464.38 C963.83,462.49 966.24,460.60 968.62,458.68 C971.00,456.77 973.38,454.85 975.73,452.90 C978.07,450.94 980.41,448.98 982.71,446.98 C985.01,444.97 987.28,442.95 989.52,440.88 C991.76,438.82 993.97,436.72 996.14,434.59 C998.30,432.45 1000.44,430.28 1002.53,428.07 C1004.62,425.86 1006.68,423.61 1008.69,421.32 C1010.70,419.04 1012.67,416.71 1014.61,414.35 C1016.54,411.99 1018.44,409.60 1020.30,407.17 C1022.15,404.75 1023.97,402.29 1025.76,399.81 C1027.55,397.33 1029.29,394.81 1031.01,392.28 C1032.73,389.75 1034.41,387.18 1036.05,384.60 C1037.70,382.02 1040.09,378.10 1040.90,376.80" stroke="rgb(255,255,0)" stroke-width="4.0"/>
<path d="M914.10,8.7 L914.10,218.60 L914.10,218.60 C914.02,220.15 913.60,224.81 913.64,227.89 C913.68,230.97 913.94,234.03 914.32,237.07 C914.71,240.10 915.29,243.12 915.96,246.12 C916.63,249.12 917.47,252.09 918.36,255.05 C919.25,258.00 920.27,260.94 921.32,263.85 C922.38,266.76 923.51,269.65 924.67,272.52 C925.83,275.39 927.03,278.24 928.28,281.06 C929.53,283.89 930.82,286.69 932.15,289.47 C933.49,292.25 934.86,295.01 936.27,297.75 C937.69,300.49 939.14,303.20 940.63,305.90 C942.12,308.59 943.65,311.26 945.22,313.91 C946.78,316.56 948.38,319.19 950.02,321.80 C951.66,324.40 953.33,326.99 955.03,329.55 C956.74,332.11 958.48,334.65 960.24,337.17 C962.01,339.69 963.81,342.18 965.64,344.66 C967.47,347.13 969.33,349.58 971.22,352.01 C973.11,354.44 975.02,356.85 976.97,359.24 C978.92,361.63 980.89,364.00 982.89,366.35 C984.90,368.71 986.93,371.04 988.99,373.37 C991.05,375.70 993.14,378.02 995.27,380.31 C997.40,382.60 999.52,384.96 1001.76,387.12 C1004.00,389.28 1006.26,391.45 1008.69,393.27 C1011.12,395.09 1013.67,396.74 1016.36,398.05 C1019.05,399.35 1021.92,400.34 1024.82,401.12 C1027.73,401.89 1030.77,402.38 1033.79,402.71 C1036.81,403.04 1039.90,403.13 1042.96,403.10 C1046.01,403.06 1049.08,402.84 1052.13,402.51 C1055.19,402.17 1058.25,401.68 1061.29,401.10 C1064.34,400.52 1067.38,399.81 1070.41,399.04 C1073.43,398.27 1076.45,397.39 1079.45,396.49 C1082.45,395.59 1085.44,394.60 1088.40,393.62 C1091.37,392.63 1094.31,391.60 1097.24,390.56 C1100.17,389.53 1103.08,388.46 1105.97,387.39 C1108.87,386.31 1111.75,385.21 1114.62,384.10 C1117.49,382.98 1120.34,381.85 1123.19,380.71 C1126.04,379.57 1128.87,378.42 1131.70,377.25 C1134.54,376.09 1137.36,374.91 1140.18,373.73 C1143.00,372.55 1145.82,371.36 1148.64,370.16 C1151.46,368.97 1154.27,367.77 1157.09,366.57 C1159.91,365.37 1162.73,364.16 1165.56,362.96 C1168.39,361.76 1171.22,360.56 1174.05,359.36 C1176.89,358.15 1179.72,356.95 1182.56,355.74 C1185.40,354.53 1188.24,353.32 1191.08,352.10 C1193.92,350.88 1196.76,349.66 1199.60,348.43 C1202.44,347.20 1205.27,345.97 1208.11,344.72 C1210.94,343.47 1213.77,342.22 1216.60,340.95 C1219.42,339.68 1222.24,338.41 1225.05,337.11 C1227.87,335.82 1230.68,334.52 1233.47,333.20 C1236.27,331.88 1239.06,330.54 1241.85,329.19 C1244.63,327.84 1247.40,326.47 1250.16,325.08 C1252.92,323.69 1255.67,322.29 1258.41,320.86 C1261.14,319.43 1263.87,317.98 1266.57,316.51 C1269.28,315.04 1271.98,313.55 1274.66,312.03 C1277.33,310.50 1280.00,308.96 1282.64,307.39 C1285.29,305.82 1287.91,304.22 1290.52,302.59 C1293.13,300.97 1295.72,299.31 1298.29,297.63 C1300.85,295.94 1303.40,294.23 1305.93,292.48 C1308.45,290.73 1310.95,288.95 1313.43,287.13 C1315.91,285.31 1318.37,283.46 1320.79,281.57 C1323.22,279.69 1326.80,276.76 1328.00,275.80 L1327.40,275.80 L1327.40,8.7 Z" fill="rgb(128,0,128)" fill-opacity="0.2" stroke="none"/>
<path d="M914.10,218.60 C914.02,220.15 913.60,224.81 913.64,227.89 C913.68,230.97 913.94,234.03 914.32,237.07 C914.71,240.10 915.29,243.12 915.96,246.12 C916.63,249.12 917.47,252.09 918.36,255.05 C919.25,258.00 920.27,260.94 921.32,263.85 C922.38,266.76 923.51,269.65 924.67,272.52 C925.83,275.39 927.03,278.24 928.28,281.06 C929.53,283.89 930.82,286.69 932.15,289.47 C933.49,292.25 934.86,295.01 936.27,297.75 C937.69,300.49 939.14,303.20 940.63,305.90 C942.12,308.59 943.65,311.26 945.22,313.91 C946.78,316.56 948.38,319.19 950.02,321.80 C951.66,324.40 953.33,326.99 955.03,329.55 C956.74,332.11 958.48,334.65 960.24,337.17 C962.01,339.69 963.81,342.18 965.64,344.66 C967.47,347.13 969.33,349.58 971.22,352.01 C973.11,354.44 975.02,356.85 976.97,359.24 C978.92,361.63 980.89,364.00 982.89,366.35 C984.90,368.71 986.93,371.04 988.99,373.37 C991.05,375.70 993.14,378.02 995.27,380.31 C997.40,382.60 999.52,384.96 1001.76,387.12 C1004.00,389.28 1006.26,391.45 1008.69,393.27 C1011.12,395.09 1013.67,396.74 1016.36,398.05 C1019.05,399.35 1021.92,400.34 1024.82,401.12 C1027.73,401.89 1030.77,402.38 1033.79,402.71 C1036.81,403.04 1039.90,403.13 1042.96,403.10 C1046.01,403.06 1049.08,402.84 1052.13,402.51 C1055.19,402.17 1058.25,401.68 1061.29,401.10 C1064.34,400.52 1067.38,399.81 1070.41,399.04 C1073.43,398.27 1076.45,397.39 1079.45,396.49 C1082.45,395.59 1085.44,394.60 1088.40,393.62 C1091.37,392.63 1094.31,391.60 1097.24,390.56 C1100.17,389.53 1103.08,388.46 1105.97,387.39 C1108.87,386.31 1111.75,385.21 1114.62,384.10 C1117.49,382.98 1120.34,381.85 1123.19,380.71 C1126.04,379.57 1128.87,378.42 1131.70,377.25 C1134.54,376.09 1137.36,374.91 1140.18,373.73 C1143.00,372.55 1145.82,371.36 1148.64,370.16 C1151.46,368.97 1154.27,367.77 1157.09,366.57 C1159.91,365.37 1162.73,364.16 1165.56,362.96 C1168.39,361.76 1171.22,360.56 1174.05,359.36 C1176.89,358.15 1179.72,356.95 1182.56,355.74 C1185.40,354.53 1188.24,353.32 1191.08,352.10 C1193.92,350.88 1196.76,349.66 1199.60,348.43 C1202.44,347.20 1205.27,345.97 1208.11,344.72 C1210.94,343.47 1213.77,342.22 1216.60,340.95 C1219.42,339.68 1222.24,338.41 1225.05,337.11 C1227.87,335.82 1230.68,334.52 1233.47,333.20 C1236.27,331.88 1239.06,330.54 1241.85,329.19 C1244.63,327.84 1247.40,326.47 1250.16,325.08 C1252.92,323.69 1255.67,322.29 1258.41,320.86 C1261.14,319.43 1263.87,317.98 1266.57,316.51 C1269.28,315.04 1271.98,313.55 1274.66,312.03 C1277.33,310.50 1280.00,308.96 1282.64,307.39 C1285.29,305.82 1287.91,304.22 1290.52,302.59 C1293.13,300.97 1295.72,299.31 1298.29,297.63 C1300.85,295.94 1303.40,294.23 1305.93,292.48 C1308.45,290.73 1310.95,288.95 1313.43,287.13 C1315.91,285.31 1318.37,283.46 1320.79,281.57 C1323.22,279.69 1326.80,276.76 1328.00,275.80" stroke="rgb(128,0,128)" stroke-width="4.0"/>
<path d="M1001.10,8.7 L1001.10,206.40 L1001.50,206.40 C1001.59,207.96 1001.83,212.65 1002.05,215.75 C1002.26,218.86 1002.50,221.96 1002.77,225.04 C1003.05,228.13 1003.35,231.21 1003.67,234.28 C1004.00,237.35 1004.36,240.41 1004.74,243.46 C1005.12,246.51 1005.52,249.56 1005.95,252.60 C1006.38,255.63 1006.84,258.67 1007.31,261.69 C1007.79,264.72 1008.29,267.74 1008.81,270.76 C1009.33,273.78 1009.88,276.79 1010.44,279.80 C1011.00,282.81 1011.58,285.82 1012.18,288.83 C1012.78,291.83 1013.40,294.83 1014.04,297.84 C1014.68,300.84 1015.33,303.84 1016.00,306.84 C1016.67,309.84 1017.35,312.84 1018.05,315.84 C1018.75,318.85 1019.46,321.85 1020.19,324.86 C1020.91,327.86 1021.65,330.87 1022.40,333.88 C1023.15,336.89 1023.91,339.91 1024.68,342.92 C1025.45,345.94 1026.22,348.97 1027.02,351.99 C1027.81,355.02 1028.60,358.06 1029.43,361.08 C1030.26,364.09 1031.11,367.12 1032.02,370.10 C1032.92,373.09 1033.86,376.06 1034.88,378.99 C1035.90,381.92 1036.96,384.82 1038.13,387.66 C1039.30,390.50 1040.53,393.30 1041.88,396.03 C1043.23,398.76 1044.66,401.44 1046.23,404.03 C1047.80,406.61 1049.47,409.14 1051.29,411.56 C1053.12,413.98 1055.07,416.34 1057.18,418.56 C1059.29,420.78 1061.56,422.94 1063.95,424.91 C1066.35,426.88 1068.90,428.74 1071.54,430.36 C1074.18,431.98 1076.96,433.43 1079.80,434.64 C1082.64,435.86 1085.60,436.86 1088.57,437.65 C1091.54,438.43 1094.60,439.01 1097.64,439.38 C1100.67,439.74 1103.75,439.89 1106.80,439.85 C1109.84,439.80 1112.87,439.53 1115.88,439.11 C1118.89,438.69 1121.89,438.06 1124.86,437.32 C1127.83,436.58 1130.79,435.66 1133.72,434.66 C1136.66,433.66 1139.58,432.52 1142.47,431.33 C1145.37,430.13 1148.24,428.82 1151.10,427.50 C1153.95,426.17 1156.79,424.77 1159.60,423.36 C1162.41,421.96 1165.20,420.53 1167.97,419.08 C1170.74,417.63 1173.49,416.17 1176.22,414.69 C1178.95,413.21 1181.67,411.71 1184.36,410.19 C1187.06,408.68 1189.74,407.15 1192.40,405.60 C1195.07,404.05 1197.72,402.49 1200.35,400.91 C1202.99,399.34 1205.61,397.74 1208.22,396.14 C1210.83,394.53 1213.43,392.91 1216.02,391.28 C1218.61,389.64 1221.18,388.00 1223.75,386.34 C1226.32,384.68 1228.88,383.01 1231.44,381.33 C1233.99,379.64 1236.54,377.95 1239.08,376.24 C1241.63,374.54 1244.16,372.82 1246.70,371.10 C1249.23,369.37 1251.76,367.63 1254.29,365.89 C1256.82,364.15 1259.35,362.39 1261.87,360.63 C1264.40,358.87 1266.93,357.10 1269.45,355.32 C1271.98,353.54 1274.51,351.75 1277.04,349.96 C1279.58,348.17 1282.11,346.37 1284.65,344.57 C1287.19,342.76 1289.74,340.96 1292.26,339.12 C1294.78,337.28 1297.31,335.43 1299.78,333.54 C1302.25,331.64 1304.70,329.73 1307.07,327.74 C1309.45,325.76 1311.79,323.74 1314.03,321.64 C1316.28,319.54 1318.47,317.39 1320.54,315.14 C1322.61,312.89 1324.61,310.58 1326.47,308.16 C1328.33,305.73 1330.83,301.86 1331.70,300.60 L1331.20,300.60 L1331.20,8.7 Z" fill="rgb(255,128,128)" fill-opacity="0.2" stroke="none"/>
<path d="M1001.50,206.40 C1001.59,207.96 1001.83,212.65 1002.05,215.75 C1002.26,218.86 1002.50,221.96 1002.77,225.04 C1003.05,228.13 1003.35,231.21 1003.67,234.28 C1004.00,237.35 1004.36,240.41 1004.74,243.46 C1005.12,246.51 1005.52,249.56 1005.95,252.60 C1006.38,255.63 1006.84,258.67 1007.31,261.69 C1007.79,264.72 1008.29,267.74 1008.81,270.76 C1009.33,273.78 1009.88,276.79 1010.44,279.80 C1011.00,282.81 1011.58,285.82 1012.18,288.83 C1012.78,291.83 1013.40,294.83 1014.04,297.84 C1014.68,300.84 1015.33,303.84 1016.00,306.84 C1016.67,309.84 1017.35,312.84 1018.05,315.84 C1018.75,318.85 1019.46,321.85 1020.19,324.86 C1020.91,327.86 1021.65,330.87 1022.40,333.88 C1023.15,336.89 1023.91,339.91 1024.68,342.92 C1025.45,345.94 1026.22,348.97 1027.02,351.99 C1027.81,355.02 1028.60,358.06 1029.43,361.08 C1030.26,364.09 1031.11,367.12 1032.02,370.10 C1032.92,373.09 1033.86,376.06 1034.88,378.99 C1035.90,381.92 1036.96,384.82 1038.13,387.66 C1039.30,390.50 1040.53,393.30 1041.88,396.03 C1043.23,398.76 1044.66,401.44 1046.23,404.03 C1047.80,406.61 1049.47,409.14 1051.29,411.56 C1053.12,413.98 1055.07,416.34 1057.18,418.56 C1059.29,420.78 1061.56,422.94 1063.95,424.91 C1066.35,426.88 1068.90,428.74 1071.54,430.36 C1074.18,431.98 1076.96,433.43 1079.80,434.64 C1082.64,435.86 1085.60,436.86 1088.57,437.65 C1091.54,438.43 1094.60,439.01 1097.64,439.38 C1100.67,439.74 1103.75,439.89 1106.80,439.85 C1109.84,439.80 1112.87,439.53 1115.88,439.11 C1118.89,438.69 1121.89,438.06 1124.86,437.32 C1127.83,436.58 1130.79,435.66 1133.72,434.66 C1136.66,433.66 1139.58,432.52 1142.47,431.33 C1145.37,430.13 1148.24,428.82 1151.10,427.50 C1153.95,426.17 1156.79,424.77 1159.60,423.36 C1162.41,421.96 1165.20,420.53 1167.97,419.08 C1170.74,417.63 1173.49,416.17 1176.22,414.69 C1178.95,413.21 1181.67,411.71 1184.36,410.19 C1187.06,408.68 1189.74,407.15 1192.40,405.60 C1195.07,404.05 1197.72,402.49 1200.35,400.91 C1202.99,399.34 1205.61,397.74 1208.22,396.14 C1210.83,394.53 1213.43,392.91 1216.02,391.28 C1218.61,389.64 1221.18,388.00 1223.75,386.34 C1226.32,384.68 1228.88,383.01 1231.44,381.33 C1233.99,379.64 1236.54,377.95 1239.08,376.24 C1241.63,374.54 1244.16,372.82 1246.70,371.10 C1249.23,369.37 1251.76,367.63 1254.29,365.89 C1256.82,364.15 1259.35,362.39 1261.87,360.63 C1264.40,358.87 1266.93,357.10 1269.45,355.32 C1271.98,353.54 1274.51,351.75 1277.04,349.96 C1279.58,348.17 1282.11,346.37 1284.65,344.57 C1287.19,342.76 1289.74,340.96 1292.26,339.12 C1294.78,337.28 1297.31,335.43 1299.78,333.54 C1302.25,331.64 1304.70,329.73 1307.07,327.74 C1309.45,325.76 1311.79,323.74 1314.03,321.64 C1316.28,319.54 1318.47,317.39 1320.54,315.14 C1322.61,312.89 1324.61,310.58 1326.47,308.16 C1328.33,305.73 1330.83,301.86 1331.70,300.60" stroke="rgb(255,128,128)" stroke-width="4.0"/>
<path d="M187.80,784.50 C188.40,783.08 190.20,778.81 191.40,775.97 C192.61,773.12 193.82,770.28 195.05,767.45 C196.27,764.61 197.49,761.77 198.72,758.94 C199.96,756.11 201.19,753.28 202.44,750.45 C203.68,747.62 204.93,744.79 206.18,741.96 C207.43,739.14 208.68,736.31 209.94,733.49 C211.20,730.67 212.46,727.84 213.73,725.02 C215.00,722.20 216.27,719.38 217.54,716.56 C218.81,713.74 220.08,710.93 221.36,708.11 C222.63,705.29 223.91,702.47 225.19,699.66 C226.46,696.84 227.74,694.03 229.02,691.21 C230.30,688.39 231.58,685.58 232.86,682.76 C234.14,679.94 235.42,677.13 236.70,674.31 C237.98,671.50 239.26,668.68 240.54,665.86 C241.82,663.04 243.09,660.23 244.37,657.41 C245.64,654.59 246.91,651.77 248.18,648.95 C249.45,646.13 250.72,643.31 251.98,640.48 C253.25,637.66 254.51,634.84 255.76,632.01 C257.02,629.19 258.27,626.36 259.52,623.53 C260.77,620.70 262.02,617.87 263.25,615.04 C264.49,612.21 265.73,609.37 266.96,606.54 C268.18,603.70 269.41,600.86 270.62,598.02 C271.84,595.18 273.05,592.34 274.25,589.49 C275.46,586.65 276.65,583.80 277.84,580.95 C279.03,578.10 280.21,575.24 281.39,572.38 C282.56,569.53 283.72,566.67 284.88,563.80 C286.04,560.94 287.18,558.07 288.32,555.20 C289.46,552.33 290.59,549.46 291.71,546.58 C292.83,543.70 293.94,540.82 295.04,537.94 C296.13,535.05 297.22,532.16 298.30,529.27 C299.37,526.37 300.44,523.48 301.49,520.57 C302.54,517.67 303.57,514.76 304.58,511.84 C305.59,508.93 306.59,506.00 307.55,503.07 C308.51,500.14 309.46,497.20 310.37,494.25 C311.27,491.30 312.16,488.35 313.00,485.38 C313.84,482.41 314.65,479.43 315.43,476.44 C316.20,473.45 316.94,470.44 317.65,467.44 C318.36,464.43 319.04,461.41 319.71,458.39 C320.37,455.36 321.01,452.34 321.64,449.31 C322.26,446.27 322.87,443.24 323.46,440.20 C324.05,437.16 324.62,434.12 325.17,431.07 C325.71,428.02 326.24,424.97 326.75,421.92 C327.25,418.87 327.74,415.81 328.20,412.75 C328.66,409.69 329.10,406.63 329.52,403.57 C329.93,400.50 330.32,397.44 330.69,394.37 C331.06,391.30 331.40,388.23 331.72,385.16 C332.03,382.08 332.32,379.01 332.59,375.93 C332.86,372.86 333.10,369.78 333.32,366.70 C333.54,363.62 333.74,360.54 333.92,357.46 C334.11,354.38 334.27,351.29 334.42,348.21 C334.57,345.13 334.70,342.04 334.82,338.95 C334.94,335.87 335.04,332.78 335.14,329.69 C335.24,326.60 335.32,323.52 335.40,320.43 C335.48,317.34 335.55,314.25 335.62,311.15 C335.69,308.06 335.75,304.97 335.82,301.88 C335.88,298.79 335.97,294.15 336.00,292.60 L337.00,292.60 C337.04,294.13 337.16,298.72 337.23,301.79 C337.31,304.85 337.37,307.93 337.45,311.00 C337.52,314.07 337.59,317.15 337.67,320.23 C337.76,323.31 337.84,326.39 337.95,329.47 C338.05,332.55 338.17,335.64 338.31,338.72 C338.45,341.80 338.61,344.88 338.79,347.96 C338.98,351.04 339.19,354.11 339.44,357.19 C339.68,360.26 339.95,363.33 340.27,366.40 C340.59,369.46 340.94,372.53 341.34,375.58 C341.74,378.64 342.18,381.69 342.69,384.72 C343.20,387.75 343.76,390.77 344.40,393.77 C345.04,396.77 345.73,399.76 346.52,402.71 C347.31,405.67 348.17,408.61 349.13,411.51 C350.09,414.41 351.16,417.28 352.29,420.13 C353.41,422.98 354.65,425.80 355.88,428.61 C357.12,431.42 358.44,434.21 359.71,437.01 C360.99,439.81 362.31,442.59 363.56,445.40 C364.81,448.20 366.06,451.01 367.21,453.85 C368.35,456.69 369.47,459.53 370.44,462.43 C371.41,465.32 372.29,468.24 373.05,471.20 C373.80,474.16 374.42,477.16 374.98,480.18 C375.54,483.20 375.98,486.25 376.40,489.30 C376.81,492.36 377.15,495.43 377.48,498.50 C377.81,501.57 378.10,504.64 378.38,507.71 C378.65,510.78 378.90,513.85 379.13,516.92 C379.36,520.00 379.56,523.07 379.75,526.14 C379.93,529.21 380.10,532.29 380.25,535.36 C380.39,538.43 380.52,541.51 380.64,544.58 C380.75,547.65 380.85,550.73 380.94,553.80 C381.02,556.88 381.09,559.95 381.15,563.03 C381.21,566.10 381.26,569.18 381.30,572.25 C381.34,575.33 381.37,578.40 381.39,581.48 C381.42,584.55 381.43,587.63 381.44,590.70 C381.46,593.78 381.46,596.86 381.46,599.93 C381.47,603.01 381.47,606.08 381.47,609.16 C381.47,612.24 381.46,615.31 381.46,618.39 C381.46,621.46 381.47,624.54 381.47,627.62 C381.47,630.69 381.48,633.77 381.48,636.85 C381.49,639.92 381.50,643.00 381.50,646.07 C381.51,649.15 381.52,652.23 381.53,655.30 C381.54,658.38 381.56,661.45 381.57,664.53 C381.58,667.61 381.59,670.68 381.61,673.76 C381.62,676.83 381.63,679.91 381.65,682.99 C381.66,686.06 381.67,689.14 381.69,692.21 C381.70,695.29 381.72,698.37 381.73,701.44 C381.75,704.52 381.76,707.59 381.77,710.67 C381.79,713.75 381.80,716.82 381.81,719.90 C381.82,722.97 381.84,726.05 381.85,729.13 C381.86,732.20 381.87,735.28 381.88,738.36 C381.88,741.43 381.89,744.51 381.90,747.58 C381.91,750.66 381.91,753.74 381.91,756.81 C381.92,759.89 381.92,762.97 381.92,766.04 C381.92,769.12 381.92,772.19 381.92,775.27 C381.91,778.35 381.90,782.96 381.90,784.50" stroke="rgb(255,128,0)" stroke-width="4.0" stroke-linejoin="miter"/>
<path d="M235.60,784.50 C236.15,783.07 237.80,778.76 238.91,775.90 C240.02,773.03 241.14,770.17 242.26,767.31 C243.38,764.46 244.51,761.60 245.65,758.75 C246.78,755.89 247.92,753.04 249.07,750.19 C250.21,747.34 251.36,744.50 252.52,741.65 C253.67,738.80 254.83,735.96 255.99,733.12 C257.15,730.27 258.31,727.43 259.48,724.59 C260.64,721.75 261.81,718.91 262.98,716.07 C264.15,713.23 265.32,710.39 266.49,707.56 C267.66,704.72 268.83,701.88 270.01,699.04 C271.18,696.20 272.35,693.36 273.52,690.52 C274.69,687.68 275.86,684.85 277.03,682.00 C278.20,679.16 279.37,676.32 280.53,673.48 C281.70,670.64 282.86,667.80 284.02,664.95 C285.17,662.10 286.33,659.26 287.48,656.41 C288.63,653.56 289.78,650.71 290.92,647.86 C292.06,645.01 293.20,642.15 294.33,639.29 C295.46,636.44 296.59,633.58 297.71,630.71 C298.82,627.85 299.93,624.98 301.02,622.11 C302.11,619.24 303.19,616.36 304.25,613.48 C305.31,610.60 306.36,607.71 307.38,604.81 C308.40,601.92 309.40,599.02 310.37,596.11 C311.34,593.20 312.29,590.28 313.20,587.36 C314.12,584.43 315.00,581.50 315.85,578.55 C316.70,575.61 317.52,572.65 318.30,569.69 C319.08,566.72 319.83,563.75 320.55,560.77 C321.26,557.79 321.95,554.80 322.60,551.80 C323.25,548.81 323.87,545.80 324.46,542.79 C325.05,539.78 325.61,536.77 326.14,533.74 C326.68,530.72 327.18,527.69 327.66,524.66 C328.13,521.63 328.58,518.59 329.01,515.54 C329.43,512.50 329.83,509.45 330.21,506.40 C330.58,503.35 330.93,500.29 331.26,497.24 C331.59,494.18 331.90,491.12 332.19,488.05 C332.47,484.99 332.74,481.92 332.98,478.85 C333.23,475.78 333.45,472.71 333.66,469.64 C333.87,466.57 334.06,463.49 334.24,460.42 C334.41,457.35 334.57,454.27 334.71,451.20 C334.85,448.12 334.98,445.05 335.10,441.97 C335.21,438.90 335.31,435.83 335.40,432.75 C335.49,429.68 335.57,426.61 335.64,423.54 C335.70,420.48 335.76,417.41 335.81,414.35 C335.86,411.28 335.89,408.22 335.93,405.16 C335.96,402.11 335.99,397.53 336.00,396.00 L337.00,396.00 C337.05,397.56 337.20,402.22 337.27,405.34 C337.35,408.46 337.40,411.59 337.46,414.72 C337.52,417.85 337.56,420.99 337.61,424.14 C337.67,427.28 337.72,430.43 337.79,433.57 C337.86,436.72 337.93,439.87 338.03,443.02 C338.13,446.17 338.25,449.32 338.40,452.46 C338.55,455.61 338.73,458.75 338.95,461.89 C339.16,465.03 339.41,468.16 339.72,471.29 C340.02,474.41 340.36,477.54 340.77,480.65 C341.18,483.76 341.62,486.86 342.16,489.95 C342.69,493.03 343.29,496.10 343.98,499.15 C344.67,502.19 345.44,505.21 346.32,508.20 C347.21,511.18 348.19,514.14 349.28,517.06 C350.38,519.97 351.62,522.84 352.89,525.70 C354.16,528.56 355.55,531.37 356.90,534.21 C358.25,537.04 359.67,539.85 361.00,542.70 C362.33,545.55 363.65,548.40 364.87,551.28 C366.09,554.17 367.25,557.09 368.32,560.02 C369.40,562.96 370.40,565.92 371.30,568.91 C372.21,571.89 373.03,574.90 373.76,577.92 C374.50,580.95 375.13,584.00 375.69,587.06 C376.26,590.12 376.73,593.21 377.14,596.30 C377.56,599.39 377.89,602.50 378.18,605.62 C378.47,608.74 378.69,611.88 378.88,615.02 C379.07,618.15 379.21,621.30 379.32,624.46 C379.44,627.61 379.51,630.77 379.57,633.93 C379.63,637.09 379.66,640.25 379.69,643.41 C379.72,646.57 379.73,649.73 379.76,652.89 C379.79,656.04 379.81,659.19 379.85,662.34 C379.88,665.49 379.92,668.63 379.97,671.77 C380.01,674.91 380.06,678.05 380.11,681.18 C380.17,684.31 380.22,687.44 380.28,690.57 C380.34,693.70 380.40,696.82 380.45,699.95 C380.51,703.07 380.57,706.20 380.63,709.32 C380.69,712.44 380.75,715.56 380.81,718.68 C380.86,721.81 380.92,724.93 380.96,728.05 C381.01,731.17 381.06,734.30 381.10,737.42 C381.14,740.55 381.18,743.67 381.21,746.80 C381.24,749.93 381.27,753.06 381.28,756.20 C381.30,759.33 381.31,762.47 381.31,765.61 C381.31,768.75 381.30,771.89 381.29,775.04 C381.27,778.19 381.21,782.92 381.20,784.50" stroke="#000" stroke-width="4.0" stroke-linejoin="miter"/>
<path d="M375.50,784.50 C376.13,783.10 378.01,778.91 379.27,776.11 C380.53,773.32 381.80,770.53 383.07,767.73 C384.34,764.94 385.61,762.15 386.89,759.36 C388.17,756.57 389.45,753.79 390.73,751.00 C392.01,748.21 393.30,745.43 394.59,742.64 C395.88,739.85 397.17,737.07 398.46,734.28 C399.75,731.50 401.05,728.71 402.34,725.93 C403.63,723.15 404.93,720.36 406.23,717.58 C407.52,714.79 408.82,712.01 410.12,709.23 C411.41,706.44 412.71,703.66 414.01,700.87 C415.30,698.09 416.60,695.30 417.89,692.51 C419.18,689.73 420.48,686.94 421.77,684.15 C423.06,681.36 424.35,678.57 425.63,675.78 C426.92,672.99 428.20,670.20 429.48,667.41 C430.76,664.61 432.04,661.82 433.31,659.02 C434.59,656.23 435.86,653.43 437.12,650.63 C438.39,647.83 439.65,645.03 440.91,642.23 C442.16,639.42 443.41,636.62 444.66,633.81 C445.91,631.00 447.15,628.19 448.38,625.38 C449.62,622.57 450.84,619.75 452.07,616.93 C453.29,614.11 454.50,611.29 455.71,608.47 C456.92,605.65 458.12,602.82 459.31,599.99 C460.51,597.16 461.69,594.33 462.87,591.49 C464.05,588.65 465.22,585.81 466.37,582.97 C467.53,580.13 468.68,577.28 469.83,574.43 C470.97,571.58 472.10,568.72 473.22,565.86 C474.34,563.00 475.45,560.14 476.55,557.27 C477.65,554.40 478.74,551.53 479.82,548.66 C480.90,545.78 481.96,542.90 483.02,540.01 C484.07,537.13 485.12,534.24 486.15,531.34 C487.17,528.45 488.19,525.55 489.19,522.64 C490.19,519.74 491.17,516.83 492.14,513.91 C493.11,511.00 494.06,508.08 494.99,505.15 C495.92,502.22 496.84,499.29 497.73,496.36 C498.63,493.42 499.51,490.48 500.36,487.54 C501.21,484.59 502.05,481.64 502.86,478.68 C503.67,475.72 504.46,472.76 505.22,469.79 C505.99,466.83 506.73,463.85 507.44,460.87 C508.16,457.90 508.85,454.91 509.51,451.92 C510.17,448.93 510.81,445.93 511.42,442.93 C512.02,439.93 512.60,436.92 513.15,433.91 C513.71,430.90 514.23,427.88 514.73,424.85 C515.22,421.83 515.69,418.80 516.14,415.77 C516.59,412.74 517.00,409.70 517.40,406.66 C517.80,403.62 518.17,400.57 518.52,397.52 C518.86,394.47 519.19,391.42 519.49,388.37 C519.79,385.31 520.07,382.25 520.33,379.19 C520.59,376.13 520.83,373.07 521.05,370.00 C521.27,366.94 521.47,363.87 521.65,360.80 C521.83,357.73 521.99,354.66 522.13,351.59 C522.27,348.52 522.40,345.45 522.50,342.37 C522.61,339.30 522.70,336.23 522.78,333.15 C522.85,330.08 522.91,327.01 522.96,323.93 C523.00,320.86 523.03,317.79 523.05,314.72 C523.07,311.64 523.07,308.57 523.06,305.50 C523.05,302.43 523.01,297.83 523.00,296.30 L524.00,296.30 C524.12,297.82 524.52,302.36 524.72,305.41 C524.93,308.45 525.09,311.51 525.23,314.56 C525.38,317.62 525.49,320.69 525.60,323.76 C525.71,326.83 525.79,329.91 525.88,332.99 C525.98,336.06 526.05,339.14 526.15,342.22 C526.25,345.30 526.34,348.38 526.47,351.46 C526.59,354.54 526.72,357.61 526.89,360.69 C527.07,363.76 527.26,366.83 527.50,369.89 C527.74,372.95 528.01,376.00 528.34,379.05 C528.67,382.10 529.05,385.14 529.49,388.16 C529.94,391.19 530.42,394.21 531.02,397.21 C531.62,400.20 532.27,403.19 533.10,406.12 C533.93,409.05 534.89,411.95 535.99,414.81 C537.08,417.66 538.36,420.46 539.66,423.26 C540.96,426.05 542.40,428.80 543.78,431.57 C545.17,434.33 546.62,437.08 547.97,439.85 C549.31,442.62 550.64,445.40 551.84,448.22 C553.03,451.03 554.13,453.87 555.15,456.73 C556.16,459.60 557.08,462.49 557.92,465.40 C558.77,468.31 559.53,471.24 560.22,474.19 C560.91,477.14 561.52,480.11 562.08,483.10 C562.63,486.09 563.12,489.09 563.56,492.10 C563.99,495.12 564.37,498.15 564.71,501.19 C565.04,504.23 565.32,507.28 565.58,510.34 C565.83,513.40 566.03,516.46 566.22,519.53 C566.41,522.61 566.55,525.68 566.69,528.76 C566.82,531.84 566.93,534.93 567.03,538.01 C567.14,541.09 567.22,544.17 567.30,547.25 C567.39,550.33 567.46,553.41 567.53,556.49 C567.60,559.56 567.66,562.64 567.72,565.71 C567.78,568.79 567.83,571.86 567.88,574.93 C567.92,578.00 567.96,581.07 568.00,584.14 C568.04,587.21 568.07,590.28 568.09,593.34 C568.12,596.41 568.14,599.48 568.16,602.54 C568.18,605.61 568.20,608.67 568.21,611.73 C568.22,614.80 568.23,617.86 568.23,620.92 C568.24,623.98 568.24,627.04 568.24,630.11 C568.24,633.17 568.24,636.23 568.24,639.29 C568.23,642.35 568.23,645.41 568.22,648.47 C568.21,651.53 568.20,654.58 568.19,657.64 C568.18,660.70 568.17,663.76 568.16,666.82 C568.15,669.88 568.14,672.94 568.13,676.00 C568.12,679.06 568.11,682.12 568.10,685.18 C568.09,688.24 568.08,691.30 568.07,694.36 C568.07,697.42 568.06,700.48 568.05,703.54 C568.05,706.61 568.05,709.67 568.04,712.73 C568.04,715.79 568.04,718.86 568.05,721.92 C568.05,724.99 568.06,728.05 568.07,731.12 C568.08,734.19 568.09,737.25 568.11,740.32 C568.12,743.39 568.14,746.46 568.17,749.53 C568.19,752.60 568.24,757.21 568.25,758.75" stroke="rgb(0,0,255)" stroke-width="4.0" stroke-linejoin="miter"/>
</g>
<rect x="185" y="298.2" width="50.60" height="25.80" fill="#fff" fill-opacity="0.65"/>
<text x="191.53" y="320.2" font-family="Liberation Sans, sans-serif" font-size="16.2" fill="#000" textLength="36.10" lengthAdjust="spacingAndGlyphs" style="font-kerning:none">LISA</text>
<rect x="186.4" y="354.8" width="46.60" height="26.20" fill="#fff" fill-opacity="0.65"/>
<text x="195.13" y="377.9" font-family="Liberation Sans, sans-serif" font-size="16.2" fill="#000" textLength="30.49" lengthAdjust="spacingAndGlyphs" style="font-kerning:none">Taiji</text>
<rect x="850.25" y="267.1" width="36.75" height="25.50" fill="#fff" fill-opacity="0.65"/>
<text x="858.26" y="289.1" font-family="Liberation Sans, sans-serif" font-size="16.2" fill="#000" textLength="20.86" lengthAdjust="spacingAndGlyphs" style="font-kerning:none">ET</text>
<rect x="642.5" y="551.75" width="78.60" height="25.15" fill="#fff" fill-opacity="0.65"/>
<text x="649.38" y="573.1" font-family="Liberation Sans, sans-serif" font-size="16.2" fill="#000" textLength="63.49" lengthAdjust="spacingAndGlyphs" style="font-kerning:none">DECIGO</text>
<text x="664.40" y="665.6" font-family="Liberation Sans, sans-serif" font-size="16.2" fill="#000" textLength="34.63" lengthAdjust="spacingAndGlyphs" style="font-kerning:none">BBO</text>
<text x="1175.17" y="443.7" font-family="Liberation Sans, sans-serif" font-size="16.2" fill="#000" textLength="22.63" lengthAdjust="spacingAndGlyphs" style="font-kerning:none">CE</text>
<g stroke="#969696" stroke-width="0.75" fill="none">
<path d="M120.60,783.5 v-12.2 M120.60,8.7 v12.2"/>
<path d="M176.91,783.5 v-6.3 M176.91,8.7 v6.3"/>
<path d="M209.85,783.5 v-6.3 M209.85,8.7 v6.3"/>
<path d="M233.22,783.5 v-6.3 M233.22,8.7 v6.3"/>
<path d="M251.34,783.5 v-6.3 M251.34,8.7 v6.3"/>
<path d="M266.15,783.5 v-6.3 M266.15,8.7 v6.3"/>
<path d="M278.68,783.5 v-6.3 M278.68,8.7 v6.3"/>
<path d="M289.52,783.5 v-6.3 M289.52,8.7 v6.3"/>
<path d="M299.09,783.5 v-6.3 M299.09,8.7 v6.3"/>
<path d="M307.65,783.5 v-12.2 M307.65,8.7 v12.2"/>
<path d="M363.96,783.5 v-6.3 M363.96,8.7 v6.3"/>
<path d="M396.90,783.5 v-6.3 M396.90,8.7 v6.3"/>
<path d="M420.27,783.5 v-6.3 M420.27,8.7 v6.3"/>
<path d="M438.39,783.5 v-6.3 M438.39,8.7 v6.3"/>
<path d="M453.20,783.5 v-6.3 M453.20,8.7 v6.3"/>
<path d="M465.73,783.5 v-6.3 M465.73,8.7 v6.3"/>
<path d="M476.57,783.5 v-6.3 M476.57,8.7 v6.3"/>
<path d="M486.14,783.5 v-6.3 M486.14,8.7 v6.3"/>
<path d="M494.70,783.5 v-12.2 M494.70,8.7 v12.2"/>
<path d="M551.01,783.5 v-6.3 M551.01,8.7 v6.3"/>
<path d="M583.95,783.5 v-6.3 M583.95,8.7 v6.3"/>
<path d="M607.32,783.5 v-6.3 M607.32,8.7 v6.3"/>
<path d="M625.44,783.5 v-6.3 M625.44,8.7 v6.3"/>
<path d="M640.25,783.5 v-6.3 M640.25,8.7 v6.3"/>
<path d="M652.78,783.5 v-6.3 M652.78,8.7 v6.3"/>
<path d="M663.62,783.5 v-6.3 M663.62,8.7 v6.3"/>
<path d="M673.19,783.5 v-6.3 M673.19,8.7 v6.3"/>
<path d="M681.75,783.5 v-12.2 M681.75,8.7 v12.2"/>
<path d="M738.06,783.5 v-6.3 M738.06,8.7 v6.3"/>
<path d="M771.00,783.5 v-6.3 M771.00,8.7 v6.3"/>
<path d="M794.37,783.5 v-6.3 M794.37,8.7 v6.3"/>
<path d="M812.49,783.5 v-6.3 M812.49,8.7 v6.3"/>
<path d="M827.30,783.5 v-6.3 M827.30,8.7 v6.3"/>
<path d="M839.83,783.5 v-6.3 M839.83,8.7 v6.3"/>
<path d="M850.67,783.5 v-6.3 M850.67,8.7 v6.3"/>
<path d="M860.24,783.5 v-6.3 M860.24,8.7 v6.3"/>
<path d="M868.80,783.5 v-12.2 M868.80,8.7 v12.2"/>
<path d="M925.11,783.5 v-6.3 M925.11,8.7 v6.3"/>
<path d="M958.05,783.5 v-6.3 M958.05,8.7 v6.3"/>
<path d="M981.42,783.5 v-6.3 M981.42,8.7 v6.3"/>
<path d="M999.54,783.5 v-6.3 M999.54,8.7 v6.3"/>
<path d="M1014.35,783.5 v-6.3 M1014.35,8.7 v6.3"/>
<path d="M1026.88,783.5 v-6.3 M1026.88,8.7 v6.3"/>
<path d="M1037.72,783.5 v-6.3 M1037.72,8.7 v6.3"/>
<path d="M1047.29,783.5 v-6.3 M1047.29,8.7 v6.3"/>
<path d="M1055.85,783.5 v-12.2 M1055.85,8.7 v12.2"/>
<path d="M1112.16,783.5 v-6.3 M1112.16,8.7 v6.3"/>
<path d="M1145.10,783.5 v-6.3 M1145.10,8.7 v6.3"/>
<path d="M1168.47,783.5 v-6.3 M1168.47,8.7 v6.3"/>
<path d="M1186.59,783.5 v-6.3 M1186.59,8.7 v6.3"/>
<path d="M1201.40,783.5 v-6.3 M1201.40,8.7 v6.3"/>
<path d="M1213.93,783.5 v-6.3 M1213.93,8.7 v6.3"/>
<path d="M1224.77,783.5 v-6.3 M1224.77,8.7 v6.3"/>
<path d="M1234.34,783.5 v-6.3 M1234.34,8.7 v6.3"/>
<path d="M1242.90,783.5 v-12.2 M1242.90,8.7 v12.2"/>
<path d="M1299.21,783.5 v-6.3 M1299.21,8.7 v6.3"/>
<path d="M1332.15,783.5 v-6.3 M1332.15,8.7 v6.3"/>
<path d="M1355.52,783.5 v-6.3 M1355.52,8.7 v6.3"/>
<path d="M120.6,731.85 h6.3 M1373.7,731.85 h-6.3"/>
<path d="M120.6,680.19 h6.3 M1373.7,680.19 h-6.3"/>
<path d="M120.6,628.54 h6.3 M1373.7,628.54 h-6.3"/>
<path d="M120.6,576.89 h12.2 M1373.7,576.89 h-12.2"/>
<path d="M120.6,525.23 h6.3 M1373.7,525.23 h-6.3"/>
<path d="M120.6,473.58 h6.3 M1373.7,473.58 h-6.3"/>
<path d="M120.6,421.93 h6.3 M1373.7,421.93 h-6.3"/>
<path d="M120.6,370.27 h12.2 M1373.7,370.27 h-12.2"/>
<path d="M120.6,318.62 h6.3 M1373.7,318.62 h-6.3"/>
<path d="M120.6,266.97 h6.3 M1373.7,266.97 h-6.3"/>
<path d="M120.6,215.31 h6.3 M1373.7,215.31 h-6.3"/>
<path d="M120.6,163.66 h12.2 M1373.7,163.66 h-12.2"/>
<path d="M120.6,112.01 h6.3 M1373.7,112.01 h-6.3"/>
<path d="M120.6,60.35 h6.3 M1373.7,60.35 h-6.3"/>
</g>
<rect x="120.6" y="8.7" width="1253.1000000000001" height="774.8" fill="none" stroke="#6a6a6a" stroke-width="1.2"/>
<g font-family="Liberation Sans, sans-serif" font-size="23.3" fill="#666" style="font-kerning:none">
<text x="87.17" y="166.06" font-size="20.9">−</text>
<text x="99.38" y="164.06" font-size="20.9">8</text>
<path d="M763,0H583V1147Q518,1085 412.5,1023Q307,961 223,930V1104Q374,1175 487,1276Q600,1377 647,1472H763Z" transform="translate(60.96,173.16) scale(0.01138,-0.01138)"/>
<text x="73.92" y="173.16" font-size="23.3">0</text>
<text x="75.55" y="372.67" font-size="20.9">−</text>
<path d="M763,0H583V1147Q518,1085 412.5,1023Q307,961 223,930V1104Q374,1175 487,1276Q600,1377 647,1472H763Z" transform="translate(87.76,370.67) scale(0.01021,-0.01021)"/>
<text x="99.38" y="370.67" font-size="20.9">2</text>
<path d="M763,0H583V1147Q518,1085 412.5,1023Q307,961 223,930V1104Q374,1175 487,1276Q600,1377 647,1472H763Z" transform="translate(49.34,379.77) scale(0.01138,-0.01138)"/>
<text x="62.30" y="379.77" font-size="23.3">0</text>
<text x="75.55" y="579.29" font-size="20.9">−</text>
<path d="M763,0H583V1147Q518,1085 412.5,1023Q307,961 223,930V1104Q374,1175 487,1276Q600,1377 647,1472H763Z" transform="translate(87.76,577.29) scale(0.01021,-0.01021)"/>
<text x="99.38" y="577.29" font-size="20.9">6</text>
<path d="M763,0H583V1147Q518,1085 412.5,1023Q307,961 223,930V1104Q374,1175 487,1276Q600,1377 647,1472H763Z" transform="translate(49.34,586.39) scale(0.01138,-0.01138)"/>
<text x="62.30" y="586.39" font-size="23.3">0</text>
<text x="75.55" y="785.90" font-size="20.9">−</text>
<text x="87.76" y="783.90" font-size="20.9">2</text>
<text x="99.38" y="783.90" font-size="20.9">0</text>
<path d="M763,0H583V1147Q518,1085 412.5,1023Q307,961 223,930V1104Q374,1175 487,1276Q600,1377 647,1472H763Z" transform="translate(49.34,793.00) scale(0.01138,-0.01138)"/>
<text x="62.30" y="793.00" font-size="23.3">0</text>
<text x="278.50" y="814.90" font-size="23.3">0</text>
<text x="291.46" y="814.90" font-size="23.3">.</text>
<text x="297.93" y="814.90" font-size="23.3">0</text>
<text x="310.89" y="814.90" font-size="23.3">0</text>
<path d="M763,0H583V1147Q518,1085 412.5,1023Q307,961 223,930V1104Q374,1175 487,1276Q600,1377 647,1472H763Z" transform="translate(323.84,814.90) scale(0.01138,-0.01138)"/>
<text x="465.55" y="814.90" font-size="23.3">0</text>
<text x="478.51" y="814.90" font-size="23.3">.</text>
<text x="484.98" y="814.90" font-size="23.3">0</text>
<path d="M763,0H583V1147Q518,1085 412.5,1023Q307,961 223,930V1104Q374,1175 487,1276Q600,1377 647,1472H763Z" transform="translate(497.94,814.90) scale(0.01138,-0.01138)"/>
<text x="510.89" y="814.90" font-size="23.3">0</text>
<text x="652.60" y="814.90" font-size="23.3">0</text>
<text x="665.56" y="814.90" font-size="23.3">.</text>
<path d="M763,0H583V1147Q518,1085 412.5,1023Q307,961 223,930V1104Q374,1175 487,1276Q600,1377 647,1472H763Z" transform="translate(672.03,814.90) scale(0.01138,-0.01138)"/>
<text x="684.99" y="814.90" font-size="23.3">0</text>
<text x="697.94" y="814.90" font-size="23.3">0</text>
<path d="M763,0H583V1147Q518,1085 412.5,1023Q307,961 223,930V1104Q374,1175 487,1276Q600,1377 647,1472H763Z" transform="translate(862.32,814.90) scale(0.01138,-0.01138)"/>
<path d="M763,0H583V1147Q518,1085 412.5,1023Q307,961 223,930V1104Q374,1175 487,1276Q600,1377 647,1472H763Z" transform="translate(1042.90,814.90) scale(0.01138,-0.01138)"/>
<text x="1055.85" y="814.90" font-size="23.3">0</text>
<path d="M763,0H583V1147Q518,1085 412.5,1023Q307,961 223,930V1104Q374,1175 487,1276Q600,1377 647,1472H763Z" transform="translate(1223.47,814.90) scale(0.01138,-0.01138)"/>
<text x="1236.42" y="814.90" font-size="23.3">0</text>
<text x="1249.38" y="814.90" font-size="23.3">0</text>
<path d="M763,0H583V1147Q518,1085 412.5,1023Q307,961 223,930V1104Q374,1175 487,1276Q600,1377 647,1472H763Z" transform="translate(94.29,814.90) scale(0.01138,-0.01138)"/>
<text x="107.25" y="814.90" font-size="23.3">0</text>
<text x="121.00" y="807.80" font-size="20.9">−</text>
<text x="133.21" y="805.80" font-size="20.9">4</text>
</g>
<g font-family="Liberation Serif, serif" fill="#000">
<text x="717.83" y="858" font-size="29" font-style="italic" textLength="9.17" lengthAdjust="spacingAndGlyphs">f</text>
<path d="M744.3,837.2 L734.5,864.8" stroke="#000" stroke-width="1.35" fill="none"/>
<text x="746.01" y="858" font-size="29" textLength="32.06" lengthAdjust="spacingAndGlyphs" style="font-kerning:none">Hz</text>
<g transform="translate(26.3,437.2) rotate(-90)">
<text x="0" y="0" font-size="29" textLength="19.5" lengthAdjust="spacingAndGlyphs">Ω</text>
<text x="20.3" y="4.0" font-size="19.5" textLength="29.5" lengthAdjust="spacingAndGlyphs">GW</text>
<text x="51.0" y="0" font-size="29" font-style="italic" textLength="16" lengthAdjust="spacingAndGlyphs">h</text>
<text x="69.8" y="-11.3" font-size="19.5">2</text>
</g>
</g>
<path d="M844.1,621.5 H888" stroke="rgb(255,128,0)" stroke-width="4.1" fill="none"/>
<g font-family="Liberation Serif, serif" fill="#000" font-size="28.5" style="font-kerning:none">
<text x="908.97" y="633.30" font-style="italic" textLength="13.72" lengthAdjust="spacingAndGlyphs">λ</text>
<text x="929.78" y="633.30" textLength="21.69" lengthAdjust="spacingAndGlyphs">=</text>
<text x="958.00" y="633.30" textLength="28.49" lengthAdjust="spacingAndGlyphs">10</text>
<text x="986.23" y="621.70" font-size="20.6" textLength="33.72" lengthAdjust="spacingAndGlyphs">−16</text>
<text x="1022.69" y="633.30">,</text>
<text x="1034.24" y="633.30" font-style="italic" textLength="14.94" lengthAdjust="spacingAndGlyphs">ϕ</text>
<text x="1050.03" y="638.10" font-size="20.6" font-style="italic">i</text>
<text x="1064.38" y="633.30" textLength="21.69" lengthAdjust="spacingAndGlyphs">=</text>
<text x="1092.81" y="633.30" textLength="28.37" lengthAdjust="spacingAndGlyphs">10</text>
<text x="1120.26" y="621.70" font-size="20.6" textLength="19.79" lengthAdjust="spacingAndGlyphs">18</text>
<text x="1141.30" y="633.30" textLength="50.70" lengthAdjust="spacingAndGlyphs">GeV</text>
<text x="1193.29" y="633.30">,</text>
<text x="1204.44" y="633.30" textLength="22.89" lengthAdjust="spacingAndGlyphs">Δ</text>
<text x="1227.74" y="638.10" font-size="20.6" font-style="italic" textLength="8.31" lengthAdjust="spacingAndGlyphs">s</text>
<text x="1243.39" y="633.30" textLength="22.78" lengthAdjust="spacingAndGlyphs">=</text>
<text x="1273.16" y="633.30" textLength="61.67" lengthAdjust="spacingAndGlyphs">0.234</text>
</g>
<path d="M844.1,680.6 H888" stroke="#000" stroke-width="4.1" fill="none"/>
<g font-family="Liberation Serif, serif" fill="#000" font-size="28.5" style="font-kerning:none">
<text x="908.97" y="692.30" font-style="italic" textLength="13.72" lengthAdjust="spacingAndGlyphs">λ</text>
<text x="929.78" y="692.30" textLength="21.69" lengthAdjust="spacingAndGlyphs">=</text>
<text x="958.00" y="692.30" textLength="28.49" lengthAdjust="spacingAndGlyphs">10</text>
<text x="986.23" y="680.70" font-size="20.6" textLength="33.72" lengthAdjust="spacingAndGlyphs">−16</text>
<text x="1022.69" y="692.30">,</text>
<text x="1034.24" y="692.30" font-style="italic" textLength="14.94" lengthAdjust="spacingAndGlyphs">ϕ</text>
<text x="1050.03" y="697.10" font-size="20.6" font-style="italic">i</text>
<text x="1064.38" y="692.30" textLength="21.69" lengthAdjust="spacingAndGlyphs">=</text>
<text x="1092.81" y="692.30" textLength="28.37" lengthAdjust="spacingAndGlyphs">10</text>
<text x="1120.28" y="680.70" font-size="20.6" textLength="19.59" lengthAdjust="spacingAndGlyphs">17</text>
<text x="1141.30" y="692.30" textLength="50.70" lengthAdjust="spacingAndGlyphs">GeV</text>
<text x="1193.29" y="692.30">,</text>
<text x="1204.44" y="692.30" textLength="22.89" lengthAdjust="spacingAndGlyphs">Δ</text>
<text x="1227.74" y="697.10" font-size="20.6" font-style="italic" textLength="8.31" lengthAdjust="spacingAndGlyphs">s</text>
<text x="1243.39" y="692.30" textLength="22.78" lengthAdjust="spacingAndGlyphs">=</text>
<text x="1273.17" y="692.30" textLength="74.66" lengthAdjust="spacingAndGlyphs">0.0234</text>
</g>
<path d="M844.1,739.7 H888" stroke="rgb(0,0,255)" stroke-width="4.1" fill="none"/>
<g font-family="Liberation Serif, serif" fill="#000" font-size="28.5" style="font-kerning:none">
<text x="908.97" y="751.40" font-style="italic" textLength="13.72" lengthAdjust="spacingAndGlyphs">λ</text>
<text x="929.78" y="751.40" textLength="21.69" lengthAdjust="spacingAndGlyphs">=</text>
<text x="958.00" y="751.40" textLength="28.49" lengthAdjust="spacingAndGlyphs">10</text>
<text x="986.22" y="739.80" font-size="20.6" textLength="33.93" lengthAdjust="spacingAndGlyphs">−15</text>
<text x="1022.69" y="751.40">,</text>
<text x="1034.24" y="751.40" font-style="italic" textLength="14.94" lengthAdjust="spacingAndGlyphs">ϕ</text>
<text x="1050.03" y="756.20" font-size="20.6" font-style="italic">i</text>
<text x="1064.38" y="751.40" textLength="21.69" lengthAdjust="spacingAndGlyphs">=</text>
<text x="1092.81" y="751.40" textLength="28.37" lengthAdjust="spacingAndGlyphs">10</text>
<text x="1120.26" y="739.80" font-size="20.6" textLength="19.79" lengthAdjust="spacingAndGlyphs">18</text>
<text x="1141.30" y="751.40" textLength="50.70" lengthAdjust="spacingAndGlyphs">GeV</text>
<text x="1193.29" y="751.40">,</text>
<text x="1204.44" y="751.40" textLength="22.89" lengthAdjust="spacingAndGlyphs">Δ</text>
<text x="1227.74" y="756.20" font-size="20.6" font-style="italic" textLength="8.31" lengthAdjust="spacingAndGlyphs">s</text>
<text x="1243.39" y="751.40" textLength="22.78" lengthAdjust="spacingAndGlyphs">=</text>
<text x="1273.16" y="751.40" textLength="61.67" lengthAdjust="spacingAndGlyphs">0.234</text>
</g>
</svg>
</body></html>
